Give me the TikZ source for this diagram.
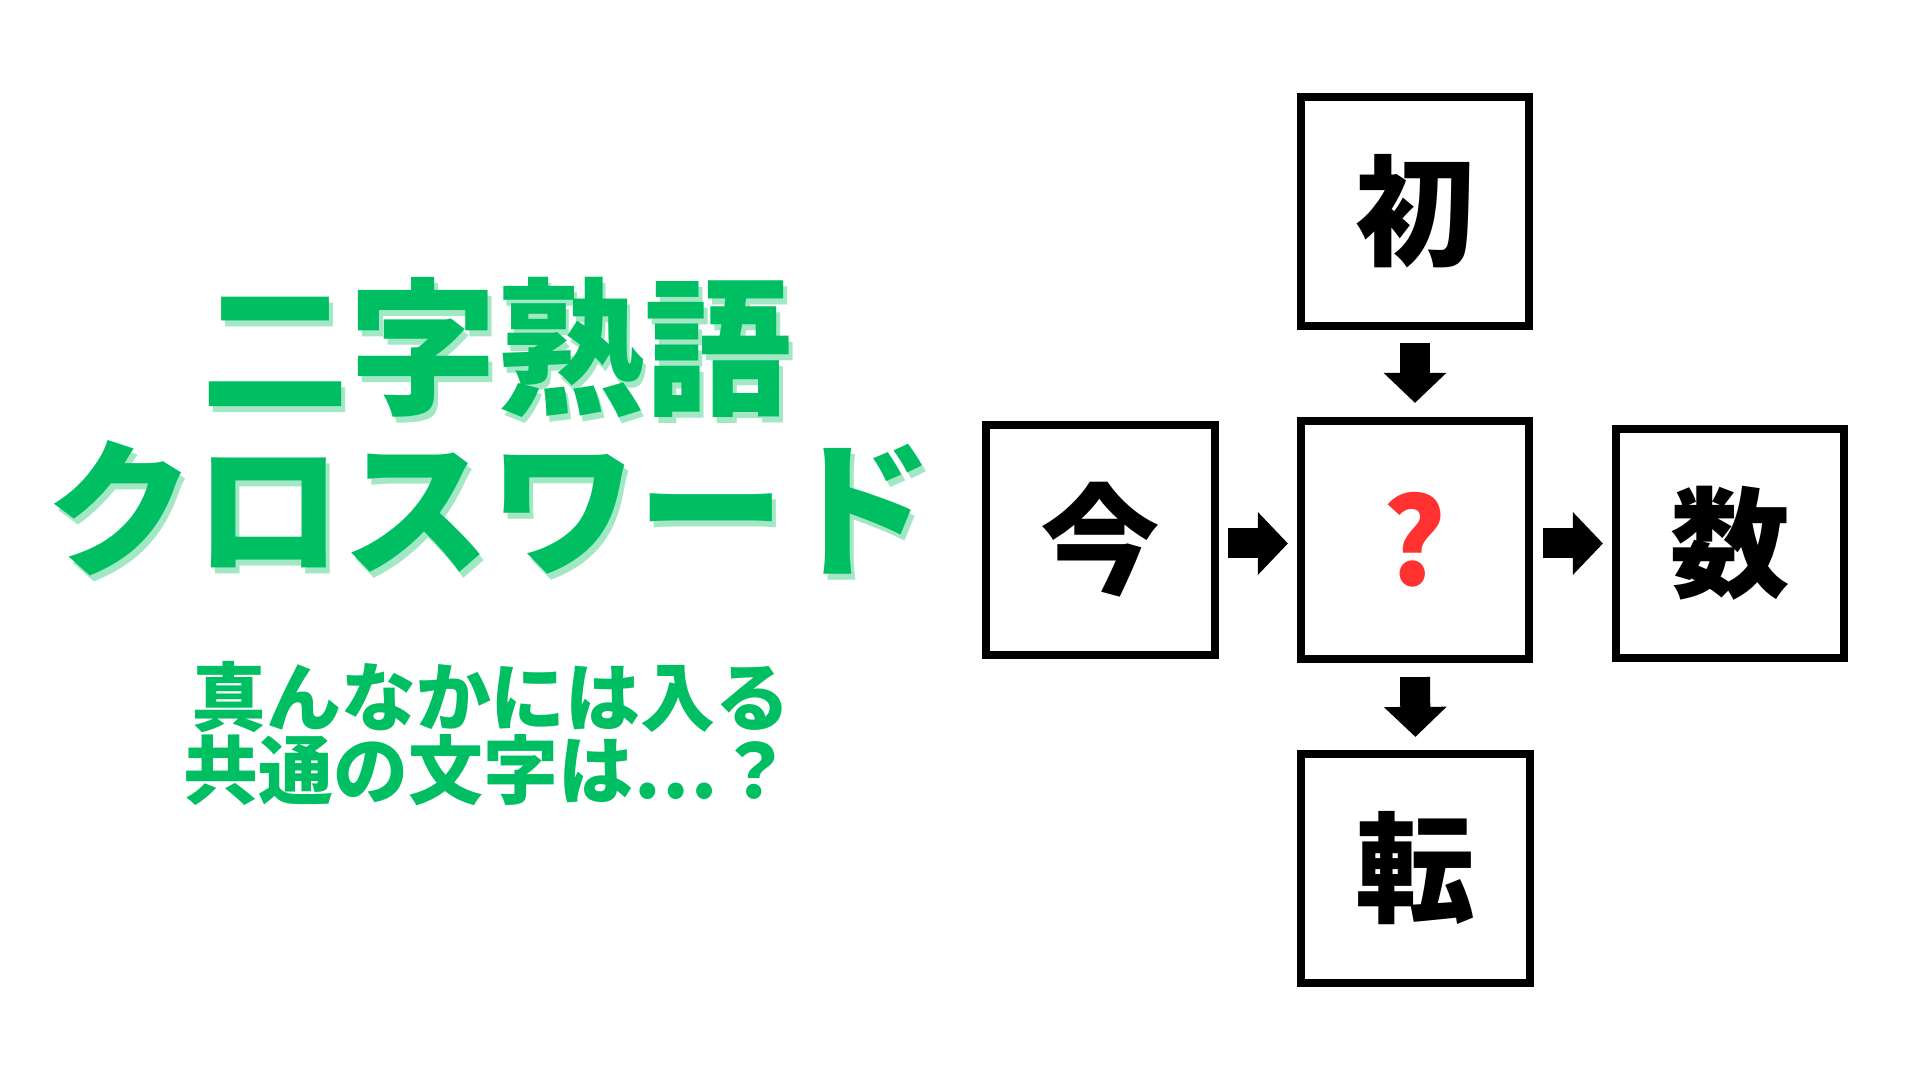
\documentclass[tikz,border=0pt]{standalone}
\usepackage{fontspec}
\setmainfont{Noto Sans CJK JP}
\usepackage{tikz}
\usetikzlibrary{arrows.meta}
\definecolor{kgreen}{HTML}{00BF63}
\definecolor{kshadow}{HTML}{A3E8C5}
\definecolor{kred}{HTML}{FF3131}
\tikzset{
  kanjibox/.style={draw=black, line width=0.08cm, fill=white, inner sep=0pt,
    minimum width=2.28cm, minimum height=2.29cm,
    font=\bfseries\fontsize{34}{34}\selectfont},
  blockarrow/.style={line width=0.3cm, -{Triangle[width=0.61cm,length=0.3cm]}},
  titletext/.style={font=\bfseries\fontsize{42}{43}\selectfont},
  subtext/.style={text=kgreen, font=\bfseries\fontsize{21.3}{22}\selectfont},
}

\begin{document}
\begin{tikzpicture}[x=0.01cm,y=-0.01cm]
\fill[white] (0,0) rectangle (1920,1080);
\useasboundingbox (0,0) rectangle (1920,1080);
% title, shadow first
\node[titletext, text=kshadow] (title1s) at (501,354) {二字熟語};
\node[titletext, text=kgreen] (title1) at (497,348) {二字熟語};
\node[titletext, text=kshadow] (title2s) at (494,514) {クロスワード};
\node[titletext, text=kgreen] (title2) at (490,508) {クロスワード};
\node[subtext] (sub1) at (491,697) {真んなかには入る};
\node[subtext] (sub2) at (488,770) {共通の文字は…？};
% crossword
\node[kanjibox] (hatsu) at (1415,211.5) {初};
\node[kanjibox, minimum height=2.38cm] (hatena) at (1415,540) {\textcolor{kred}{?}};
\node[kanjibox] (ima) at (1100.5,540) {今};
\node[kanjibox] (kazu) at (1730,543.5) {数};
\node[kanjibox] (ten) at (1415.5,868.5) {転};
\draw[blockarrow, shorten <=0.13cm, shorten >=0.14cm] (hatsu.south) -- (hatena.north);
\draw[blockarrow, shorten <=0.14cm, shorten >=0.13cm] (hatena.south) -- (ten.north);
\draw[blockarrow, shorten <=0.09cm, shorten >=0.09cm] (ima.east |- kazu.west) -- (hatena.west |- kazu.west);
\draw[blockarrow, shorten <=0.10cm, shorten >=0.09cm] (hatena.east |- kazu.west) -- (kazu.west);
\end{tikzpicture}
\end{document}
